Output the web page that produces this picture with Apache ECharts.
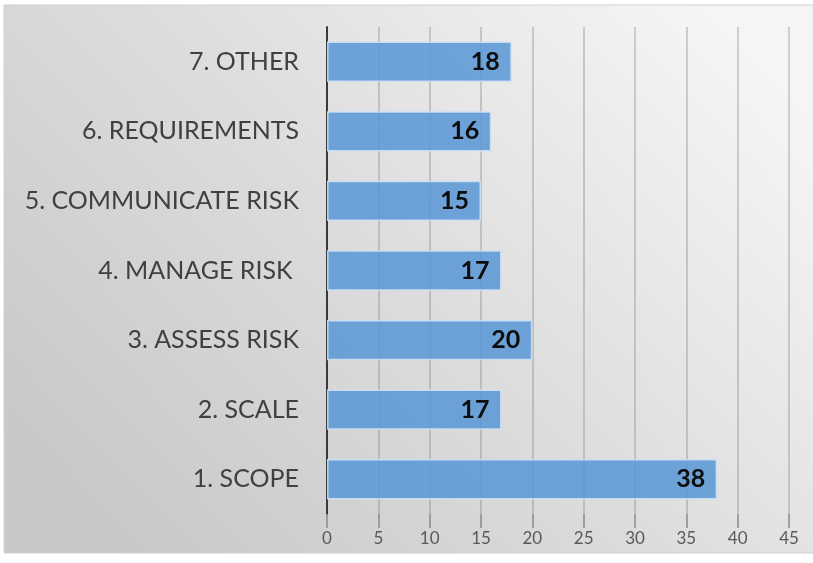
<!DOCTYPE html>
<html>
<head>
<meta charset="utf-8">
<script src="https://cdn.jsdelivr.net/npm/echarts@6/dist/echarts.min.js"></script>
<style>
  html, body { margin: 0; padding: 0; background: #ffffff; }
  #chart { width: 813px; height: 563px; }
</style>
</head>
<body>
<div id="chart"></div>
<script>
// Categories listed bottom-to-top on the vertical axis
const categories = [
  '1. SCOPE',
  '2. SCALE',
  '3. ASSESS RISK',
  '4. MANAGE RISK ',
  '5. COMMUNICATE RISK',
  '6. REQUIREMENTS',
  '7. OTHER'
];
const counts = [38, 17, 20, 17, 15, 16, 18];
const xTicks = { min: 0, max: 45, step: 5 };

const chart = echarts.init(document.getElementById('chart'), null, { renderer: 'canvas' });

const FONT = 'Lato, "Open Sans", sans-serif';

chart.setOption({
  animation: false,
  graphic: [{
    type: 'rect',
    z: -10,
    silent: true,
    shape: { x: 4, y: 5, width: 813, height: 548 },
    style: {
      fill: new echarts.graphic.LinearGradient(0.15, 1, 0.85, 0, [
        { offset: 0, color: '#c8c8c8' },
        { offset: 0.5, color: '#dddddd' },
        { offset: 1, color: '#f5f5f5' }
      ]),
      stroke: '#d0d0d0',
      lineWidth: 1
    }
  }],
  grid: { left: 327, right: 24, top: 27, bottom: 49, containLabel: false },
  xAxis: {
    type: 'value',
    min: xTicks.min,
    max: xTicks.max,
    interval: xTicks.step,
    axisLine: { show: false },
    axisTick: {
      show: true,
      length: 14,
      inside: false,
      lineStyle: { color: '#8a8a8a', width: 1.5 }
    },
    splitLine: { show: true, lineStyle: { color: 'rgba(120,120,120,0.42)', width: 1.5 } },
    axisLabel: {
      color: '#595959',
      fontFamily: FONT,
      fontSize: 17,
      margin: 16
    }
  },
  yAxis: {
    type: 'category',
    data: categories,
    axisLine: { show: true, lineStyle: { color: '#3a3a3a', width: 2 } },
    axisTick: { show: false },
    axisLabel: {
      color: '#404040',
      fontFamily: FONT,
      fontSize: 25,
      margin: 28
    }
  },
  series: [{
    type: 'bar',
    data: counts,
    barCategoryGap: '42%',
    itemStyle: {
      color: 'rgba(92,152,214,0.88)',
      borderColor: 'rgba(205,225,245,0.9)',
      borderWidth: 1.5
    },
    label: {
      show: true,
      position: 'insideRight',
      distance: 12,
      color: '#0d0d0d',
      fontFamily: FONT,
      fontWeight: 'bold',
      fontSize: 25
    }
  }]
});
</script>
</body>
</html>
